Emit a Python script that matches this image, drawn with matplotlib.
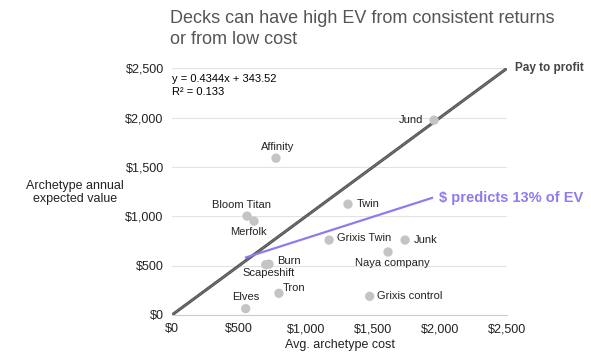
import numpy as np
import matplotlib.pyplot as plt

plt.rcParams['font.family'] = ['Liberation Sans', 'DejaVu Sans']

# archetype data
decks = ['Jund', 'Affinity', 'Bloom Titan', 'Merfolk', 'Twin', 'Grixis Twin', 'Junk',
         'Naya company', 'Burn', 'Scapeshift', 'Tron', 'Elves', 'Grixis control']
cost = [1955, 776, 560, 612, 1313, 1172, 1739, 1612, 724, 700, 798, 550, 1475]
ev = [1974, 1589, 1002, 951, 1123, 759, 759, 638, 515, 510, 220, 64, 189]
tick_labels = ['$0', '$500', '$1,000', '$1,500', '$2,000', '$2,500']

# label offsets (points)
offsets = {'Jund': (-8, 0, 'right'), 'Affinity': (1, 8, 'center'), 'Bloom Titan': (-4, 8, 'center'),
           'Merfolk': (-4, -7.5, 'center'), 'Twin': (6, 0, 'left'), 'Grixis Twin': (6, 1.5, 'left'),
           'Junk': (6, 0, 'left'), 'Naya company': (-24, -8, 'left'), 'Burn': (6, 2.5, 'left'),
           'Scapeshift': (-17, -6, 'left'), 'Tron': (3, 3.6, 'left'), 'Elves': (0, 8.6, 'center'),
           'Grixis control': (5, 0, 'left')}

slope, intercept = 0.4344, 343.52

fig = plt.figure(figsize=(5.91, 3.55), dpi=100)
ax = fig.add_axes([0.291, 0.1127, 0.567, 0.695])

ax.set_xlim(0, 2500)
ax.set_ylim(0, 2500)
ticks = np.arange(0, 2501, 500)
ax.set_xticks(ticks)
ax.set_yticks(ticks)
ax.set_xticklabels(tick_labels, fontsize=9)
ax.set_yticklabels(tick_labels, fontsize=9)
ax.tick_params(length=0, pad=6, colors='#222222')
ax.grid(axis='y', color='#e3e3e3', lw=0.8)
ax.set_axisbelow(True)
for s in ['top', 'right', 'left']:
    ax.spines[s].set_visible(False)
ax.spines['bottom'].set_color('#cccccc')

# pay to profit line
ax.plot([0, 2500], [0, 2500], color='#555555', lw=2.2, zorder=2)
ax.plot([0, 2500], [0, 2500], color='#999999', lw=0.6, ls=(0, (1, 1)), zorder=2)
ax.text(2560, 2500, 'Pay to profit', fontsize=8.5, fontweight='bold', color='#444444', va='center')

# trend line
xt = np.array([552, 1940])
ax.plot(xt, slope * xt + intercept, color='#8c7cf0', lw=1.6, zorder=2)
ax.text(1995, 1190, '$ predicts 13% of EV', fontsize=10.5, fontweight='bold', color='#8c7cf0', va='center')

ax.scatter(cost, ev, s=45, color='#c4c4c4', zorder=3, edgecolors='none')
for name, x, y in zip(decks, cost, ev):
    dx, dy, ha = offsets[name]
    ax.annotate(name, (x, y), xytext=(dx, dy), textcoords='offset points',
                fontsize=8, ha=ha, va='center', color='#222222')

ax.text(0.0, 0.975, 'y = 0.4344x + 343.52\nR² = 0.133', transform=ax.transAxes,
        fontsize=8, va='top', ha='left', linespacing=1.35)

ax.set_xlabel('Avg. archetype cost', fontsize=9, color='#222222', labelpad=3)
fig.text(0.127, 0.458, 'Archetype annual\nexpected value', fontsize=9, ha='center',
         va='center', color='#222222')
fig.text(0.288, 0.972, 'Decks can have high EV from consistent returns\nor from low cost',
         fontsize=13, color='#555555', ha='left', va='top', linespacing=1.3)

fig.savefig('out.png', dpi=100)
